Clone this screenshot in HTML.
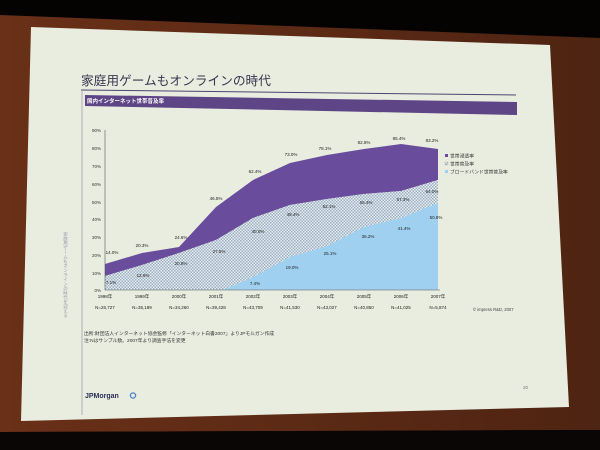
<!DOCTYPE html>
<html><head><meta charset="utf-8"><style>
html,body{margin:0;padding:0;background:#000;}
svg{display:block}
text{font-family:"Liberation Sans","Noto Sans CJK JP",sans-serif;}
</style></head><body>
<svg width="600" height="450" viewBox="0 0 600 450" xmlns="http://www.w3.org/2000/svg">
<defs>
<pattern id="chk" width="3" height="3" patternUnits="userSpaceOnUse">
<rect width="3" height="3" fill="#e9eef0"/>
<rect width="1.5" height="1.5" fill="#9aaec2"/>
<rect x="1.5" y="1.5" width="1.5" height="1.5" fill="#9aaec2"/>
</pattern>
<linearGradient id="bg" x1="0" y1="0" x2="1" y2="0">
<stop offset="0" stop-color="#6a3018"/><stop offset="1" stop-color="#4e2412"/>
</linearGradient>
</defs>
<rect width="600" height="450" fill="#050302"/>
<polygon points="0,15 600,38 600,430 0,432" fill="url(#bg)"/>
<polygon points="0,432 600,430 600,450 0,450" fill="#0a0605"/>
<polygon points="31,27 550,45 569,407 21,421" fill="#e8ede0"/>
<text x="81" y="85" font-size="12.7" fill="#3b3550">家庭用ゲームもオンラインの時代</text>
<line x1="81" y1="90" x2="516" y2="95" stroke="#4a4570" stroke-width="1"/>
<line x1="82" y1="90" x2="82" y2="415" stroke="#9a9a9a" stroke-width="0.7"/>
<polygon points="85,95 517,102 517,115 85,106" fill="#5e4585"/>
<text x="87" y="103" font-size="5.5" fill="#fff" font-weight="bold">国内インターネット世帯普及率</text>
<text x="66" y="232" font-size="4.5" fill="#9a9aa6" writing-mode="tb">家庭用ゲームもオンラインの時代を迎える</text>
<polygon points="105,264 142,253 179,247 216,207 253,180 290,163 327,155 364,149 401,144 438,149 438,180 401,191 364,194 327,199 290,205 253,218 216,240 179,253 142,265 105,276" fill="#6a4c9c"/>
<polygon points="105,276 142,265 179,253 216,240 253,218 290,205 327,199 364,194 401,191 438,180 438,203 401,218 364,227 327,246 290,257 253,277 223,290 105,290" fill="url(#chk)"/>
<polygon points="223,290 253,277 290,257 327,246 364,227 401,218 438,203 438,290" fill="#9fd0ef"/>
<g stroke="#555" stroke-width="0.6">
<line x1="105" y1="130" x2="105" y2="290"/>
<line x1="105" y1="290" x2="440" y2="290"/>
</g>
<g font-size="4.5" fill="#333" text-anchor="end">
<text x="101" y="132">90%</text><text x="101" y="150">80%</text><text x="101" y="168">70%</text>
<text x="101" y="186">60%</text><text x="101" y="204">50%</text><text x="101" y="221">40%</text>
<text x="101" y="239">30%</text><text x="101" y="257">20%</text><text x="101" y="275">10%</text>
<text x="101" y="292">0%</text>
</g>
<g font-size="4.5" fill="#222" text-anchor="middle">
<text x="105" y="298">1998年</text><text x="142" y="298">1999年</text><text x="179" y="298">2000年</text>
<text x="216" y="298">2001年</text><text x="253" y="298">2002年</text><text x="290" y="298">2003年</text>
<text x="327" y="298">2004年</text><text x="364" y="298">2005年</text><text x="401" y="298">2006年</text>
<text x="438" y="298">2007年</text>
<text x="105" y="309">N=26,727</text><text x="142" y="309">N=35,189</text><text x="179" y="309">N=34,260</text>
<text x="216" y="309">N=39,428</text><text x="253" y="309">N=43,709</text><text x="290" y="309">N=41,530</text>
<text x="327" y="309">N=43,027</text><text x="364" y="309">N=40,850</text><text x="401" y="309">N=41,025</text>
<text x="438" y="309">N=5,874</text>
</g>
<g font-size="4.5" fill="#222" text-anchor="middle">
<text x="112" y="254">14.0%</text><text x="142" y="247">20.3%</text><text x="181" y="239">24.6%</text>
<text x="216" y="200">46.5%</text><text x="255" y="173">62.4%</text><text x="291" y="156">73.0%</text>
<text x="325" y="150">78.1%</text><text x="364" y="144">82.8%</text><text x="399" y="140">85.4%</text>
<text x="432" y="142">83.2%</text>
<text x="111" y="284">7.1%</text><text x="143" y="277">12.9%</text><text x="181" y="265">20.9%</text>
<text x="219" y="253">27.5%</text><text x="258" y="233">40.0%</text><text x="293" y="216">48.4%</text>
<text x="329" y="208">52.1%</text><text x="366" y="204">55.4%</text><text x="403" y="201">57.3%</text>
<text x="432" y="193">64.0%</text>
<text x="255" y="285">7.4%</text><text x="292" y="269">19.0%</text><text x="330" y="255">25.1%</text>
<text x="368" y="238">36.2%</text><text x="404" y="230">41.4%</text><text x="436" y="219">50.8%</text>
</g>
<rect x="445" y="154" width="3" height="3" fill="#6a4c9c"/>
<text x="450" y="157.5" font-size="4.8" fill="#333">世帯浸透率</text>
<rect x="445" y="162" width="3" height="3" fill="url(#chk)" stroke="#999" stroke-width="0.3"/>
<text x="450" y="165.5" font-size="4.8" fill="#333">世帯普及率</text>
<rect x="445" y="170" width="3" height="3" fill="#9fd0ef"/>
<text x="450" y="173.5" font-size="4.8" fill="#333">ブロードバンド世帯普及率</text>
<text x="473" y="311" font-size="4.2" fill="#444">© impress R&amp;D, 2007</text>
<text x="84" y="335" font-size="4.8" fill="#333">出所:財団法人インターネット協会監修「インターネット白書2007」よりJPモルガン作成</text>
<text x="84" y="342" font-size="4.8" fill="#333">注:Nはサンプル数。2007年より調査手法を変更</text>
<text x="85" y="398" font-size="7" font-weight="bold" fill="#2a2f55">JPMorgan</text>
<circle cx="133" cy="395.5" r="2.6" fill="none" stroke="#4a7fc8" stroke-width="1.3"/>
<text x="523" y="389" font-size="4.5" fill="#777">20</text>
</svg>
</body></html>
